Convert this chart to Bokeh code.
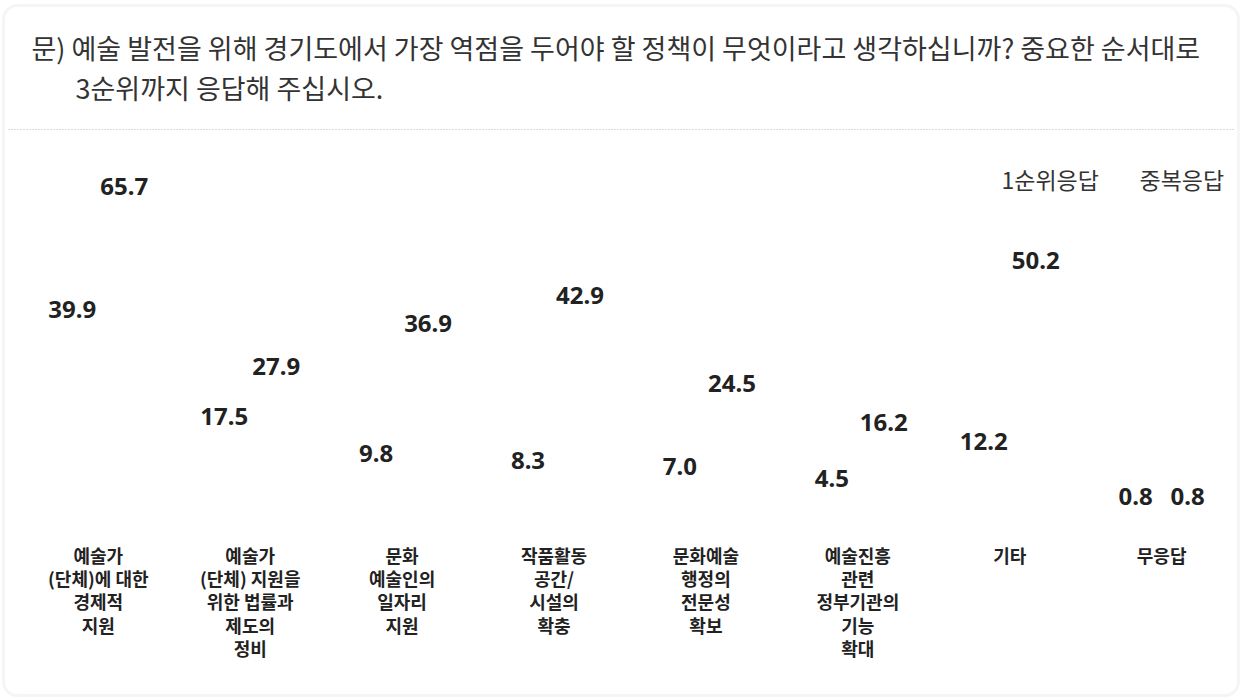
from bokeh.plotting import figure
from bokeh.models import Range1d, Label, BoxAnnotation, ColumnDataSource
from bokeh.embed import file_html
from bokeh.resources import INLINE
from bokeh.core.properties import value

# ---- data ----
categories = [
    "예술가\n(단체)에 대한\n경제적\n지원",
    "예술가\n(단체) 지원을\n위한 법률과\n제도의\n정비",
    "문화\n예술인의\n일자리\n지원",
    "작품활동\n공간/\n시설의\n확충",
    "문화예술\n행정의\n전문성\n확보",
    "예술진흥\n관련\n정부기관의\n기능\n확대",
    "기타",
    "무응답",
]
first_rank = [39.9, 17.5, 9.8, 8.3, 7.0, 4.5, 12.2, 0.8]
multiple = [65.7, 27.9, 36.9, 42.9, 24.5, 16.2, 50.2, 0.8]
series_names = ["1순위응답", "중복응답"]
title_lines = [
    "문) 예술 발전을 위해 경기도에서 가장 역점을 두어야 할 정책이 무엇이라고 생각하십니까? 중요한 순서대로",
    "3순위까지 응답해 주십시오.",
]

# ---- layout ----
W, H = 1240, 698
XPX = 151.9          # pixels per category
YPX = 4.78           # pixels per percentage point
X0 = -97.8 / XPX
X1 = X0 + W / XPX
YEND = 499.8 / YPX
YSTART = YEND - H / YPX


def px_x(px):
    return X0 + px / XPX


def px_y(py):
    return YEND - py / YPX


p = figure(width=W, height=H, output_backend="svg", toolbar_location=None,
           x_range=Range1d(X0, X1), y_range=Range1d(YSTART, YEND),
           x_axis_type=None, y_axis_type=None,
           min_border=0, min_border_left=0, min_border_right=0,
           min_border_top=0, min_border_bottom=0,
           outline_line_color=None, background_fill_color="white",
           border_fill_color="white")
p.grid.visible = False

# card border
p.add_layout(BoxAnnotation(left=px_x(3), right=px_x(1238), top=px_y(5), bottom=px_y(695),
                           fill_color=None, line_color="#dedede", line_width=3,
                           border_radius=14))

# title
p.add_layout(Label(x=px_x(31), y=px_y(47), text=title_lines[0], text_font="Noto Sans CJK KR",
                   text_font_size="27px", text_color="#333333", text_baseline="middle"))
p.add_layout(Label(x=px_x(75), y=px_y(87), text=title_lines[1], text_font="Noto Sans CJK KR",
                   text_font_size="27px", text_color="#333333", text_baseline="middle"))

# dotted separator
p.line(x=[px_x(8), px_x(1233)], y=[px_y(129), px_y(129)], line_color="#b8b8b8",
       line_width=1, line_dash="1 2")

# legend (text only)
p.add_layout(Label(x=px_x(1001), y=px_y(178), text=series_names[0], text_font="Noto Sans CJK KR",
                   text_font_size="23px", text_color="#333333", text_baseline="middle"))
p.add_layout(Label(x=px_x(1139), y=px_y(178), text=series_names[1], text_font="Noto Sans CJK KR",
                   text_font_size="23px", text_color="#333333", text_baseline="middle"))

# value labels
dodge = 26 / XPX
idx = list(range(len(categories)))
src1 = ColumnDataSource(dict(x=[i - dodge for i in idx], y=first_rank,
                             t=[f"{v:.1f}" for v in first_rank]))
src2 = ColumnDataSource(dict(x=[i + dodge for i in idx], y=multiple,
                             t=[f"{v:.1f}" for v in multiple]))
for s in (src1, src2):
    p.text(x="x", y="y", text="t", source=s, text_align="center", text_baseline="middle",
           text_font=value("Noto Sans"), text_font_style="bold", text_font_size="24px",
           text_color="#222222")

# category labels
srcc = ColumnDataSource(dict(x=idx, y=[px_y(541)] * len(idx), t=categories))
p.text(x="x", y="y", text="t", source=srcc, text_align="center", text_baseline="top",
       text_font=value("Noto Sans CJK KR"), text_font_style="bold", text_font_size="18px",
       text_line_height=0.9, text_color="#222222")

open("out.html", "w").write(file_html(p, INLINE))
